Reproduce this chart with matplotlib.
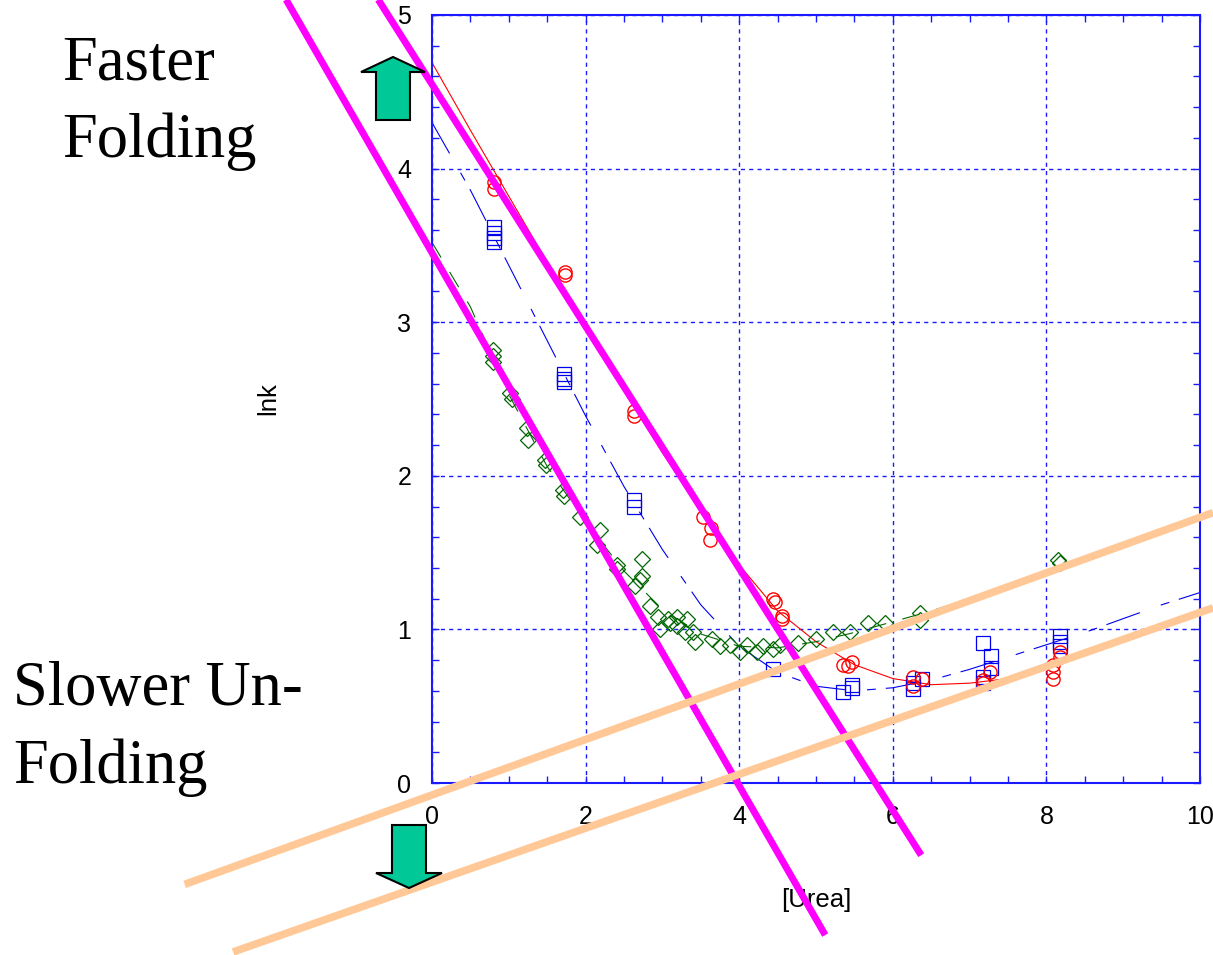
import matplotlib.pyplot as plt
from matplotlib.patches import FancyArrow
from matplotlib.ticker import MultipleLocator

# measured rates, ln k vs [urea]
red_x = [0.81, 0.81, 1.73, 1.73, 2.63, 2.63, 3.53, 3.63, 3.62, 4.44, 4.47, 4.56, 4.56,
         5.35, 5.42, 5.47, 6.26, 6.26, 6.38, 7.18, 7.18, 7.27, 8.09, 8.09, 8.09, 8.18, 8.18]
red_y = [3.91, 3.87, 3.33, 3.31, 2.42, 2.39, 1.73, 1.66, 1.58, 1.20, 1.18, 1.09, 1.07,
         0.77, 0.76, 0.79, 0.69, 0.63, 0.68, 0.67, 0.65, 0.72, 0.77, 0.72, 0.68, 0.85, 0.82]

blue_x = [0.81, 0.81, 0.81, 0.81, 1.72, 1.72, 1.72, 2.63, 2.63, 4.44, 5.35, 5.47, 5.47,
          6.26, 6.26, 6.38, 7.18, 7.18, 7.18, 7.28, 7.28, 8.18, 8.18, 8.18]
blue_y = [3.62, 3.58, 3.55, 3.52, 2.66, 2.63, 2.61, 1.84, 1.80, 0.74, 0.59, 0.62, 0.64,
          0.61, 0.65, 0.68, 0.91, 0.69, 0.65, 0.83, 0.75, 0.96, 0.92, 0.89]

green_x = [0.80, 0.80, 0.80, 1.02, 1.04, 1.24, 1.25, 1.47, 1.48, 1.71, 1.72, 1.93, 2.19,
           2.15, 2.41, 2.41, 2.64, 2.71, 2.73, 2.73, 2.84, 2.94, 3.07, 3.19, 3.32, 2.97,
           3.10, 3.19, 3.29, 3.40, 3.42, 3.64, 3.75, 3.88, 4.01, 4.10, 4.23, 4.31, 4.44,
           4.53, 4.77, 5.00, 5.22, 5.44, 5.68, 5.90, 6.35, 6.35, 8.18, 8.15]
green_y = [2.82, 2.78, 2.74, 2.54, 2.50, 2.31, 2.23, 2.10, 2.07, 1.91, 1.87, 1.73, 1.65,
           1.55, 1.42, 1.39, 1.28, 1.32, 1.46, 1.35, 1.15, 1.08, 1.07, 1.08, 1.07, 1.00,
           1.04, 1.02, 0.98, 0.98, 0.92, 0.94, 0.89, 0.90, 0.85, 0.90, 0.85, 0.89, 0.87,
           0.90, 0.91, 0.94, 0.98, 0.98, 1.04, 1.04, 1.11, 1.06, 1.43, 1.45]

# fitted chevrons
red_fit_x = [0, 0.5, 1, 1.5, 2, 2.5, 3, 3.5, 4, 4.5, 5, 5.5, 6, 6.5, 7, 7.5, 8, 8.2]
red_fit_y = [4.69, 4.25, 3.82, 3.39, 2.97, 2.56, 2.15, 1.78, 1.42, 1.12, 0.92, 0.77,
             0.68, 0.64, 0.65, 0.68, 0.75, 0.79]

blue_fit_x = [0, 0.5, 1, 1.5, 2, 2.5, 3, 3.5, 4, 4.5, 5, 5.5, 6, 6.5, 7, 7.5, 8, 8.5,
              9, 9.5, 10]
blue_fit_y = [4.30, 3.86, 3.37, 2.88, 2.39, 1.93, 1.52, 1.16, 0.89, 0.72, 0.63, 0.60,
              0.62, 0.67, 0.74, 0.82, 0.90, 0.98, 1.07, 1.16, 1.24]

green_fit_x = [0, 0.5, 1, 1.5, 2, 2.5, 3, 3.5, 4, 4.5, 5, 5.5, 6, 6.5, 7, 7.5, 8, 8.5,
               9, 9.5, 10]
green_fit_y = [3.52, 3.10, 2.53, 2.06, 1.70, 1.38, 1.13, 0.97, 0.89, 0.88, 0.92, 0.98,
               1.05, 1.12, 1.20, 1.29, 1.38, 1.47, 1.56, 1.65, 1.74]

# hand-drawn guide lines (data coords, run off the axes)
fold_lines = [([-0.70, 6.37], [5.10, -0.47]), ([-1.90, 5.12], [5.10, -0.99])]
unfold_lines = [([-3.22, 10.17], [-0.66, 1.76]), ([-2.59, 10.17], [-1.10, 1.14])]

BLUE = "#1a1aff"

plt.rcParams["font.family"] = ["Liberation Sans", "DejaVu Sans"]

fig = plt.figure(figsize=(12.13, 9.55), dpi=100)
ax = fig.add_axes([432 / 1213, 172 / 955, 768 / 1213, 768 / 955])

ax.plot(red_fit_x, red_fit_y, color="#ff0000", lw=0.8, zorder=2)
ax.plot(blue_fit_x, blue_fit_y, color="#0000ee", lw=0.8, dashes=(32, 20, 8, 9), zorder=2)
ax.plot(green_fit_x, green_fit_y, color="#006600", lw=0.8, dashes=(16, 15), zorder=2)

ax.plot(green_x, green_y, "D", mfc="none", mec="#006600", ms=8.5, mew=0.9, ls="none", zorder=3)
ax.plot(blue_x, blue_y, "s", mfc="none", mec="#0000ee", ms=9.5, mew=0.9, ls="none", zorder=3)
ax.plot(red_x, red_y, "o", mfc="none", mec="#ff0000", ms=9.5, mew=1.0, ls="none", zorder=3)

for xs, ys in fold_lines:
    ax.plot(xs, ys, color="#ff00ff", lw=5, clip_on=False, zorder=5, solid_capstyle="butt")
for xs, ys in unfold_lines:
    ax.plot(xs, ys, color="#ffc896", lw=5.5, clip_on=False, zorder=6, solid_capstyle="butt")

ax.set_xlim(0, 10)
ax.set_ylim(0, 5)
ax.xaxis.set_major_locator(MultipleLocator(2))
ax.xaxis.set_minor_locator(MultipleLocator(0.5))
ax.yaxis.set_major_locator(MultipleLocator(1))
ax.yaxis.set_minor_locator(MultipleLocator(0.2))
ax.tick_params(which="both", direction="in", top=True, right=True, length=5,
               width=1, color=BLUE, labelsize=18)
ax.tick_params(axis="x", pad=16)
ax.tick_params(axis="y", pad=15)
ax.grid(True, which="major", color=BLUE, lw=1, linestyle=(0, (3, 3)), zorder=1)
for sp in ax.spines.values():
    sp.set_color(BLUE)
    sp.set_linewidth(1.5)

ax.set_xlabel("[Urea]", fontsize=18.5)
ax.set_ylabel("lnk", fontsize=18.5)
ax.xaxis.set_label_coords(0.5, -0.152)
ax.yaxis.set_label_coords(-0.2135, 0.501)
ax.xaxis.label.set_va("center")
ax.yaxis.label.set_va("center")

serif = dict(family=["Liberation Serif", "DejaVu Serif"], fontsize=45)
fig.text(62 / 1213, 1 - 80 / 955, "Faster", va="baseline", **serif)
fig.text(62 / 1213, 1 - 157 / 955, "Folding", va="baseline", **serif)
fig.text(13 / 1213, 1 - 705 / 955, "Slower Un-", va="baseline", **serif)
fig.text(13 / 1213, 1 - 783 / 955, "Folding", va="baseline", **serif)

# block arrows, positioned in inches from the lower-left corner
up = FancyArrow(3.93, 8.35, 0, 0.63, width=0.34, head_width=0.64, head_length=0.15,
                length_includes_head=True, fc="#00c896", ec="black", lw=1.5,
                transform=fig.dpi_scale_trans, zorder=7)
down = FancyArrow(4.09, 1.30, 0, -0.63, width=0.34, head_width=0.66, head_length=0.15,
                  length_includes_head=True, fc="#00c896", ec="black", lw=1.5,
                  transform=fig.dpi_scale_trans, zorder=7)
fig.add_artist(up)
fig.add_artist(down)

fig.savefig("out.png", dpi=100)
